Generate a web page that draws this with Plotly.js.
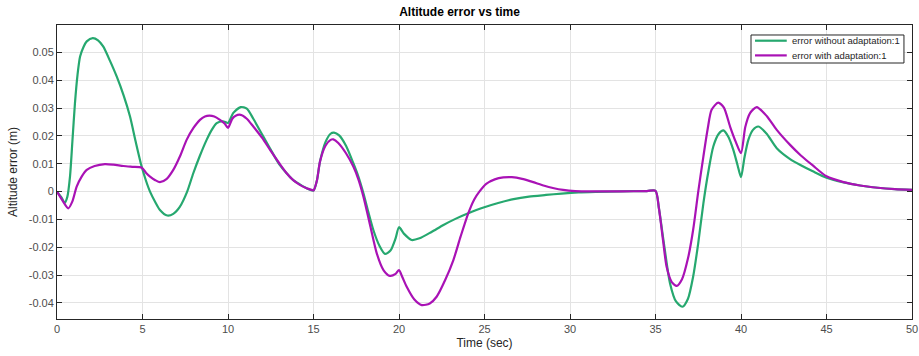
<!DOCTYPE html>
<html>
<head>
<meta charset="utf-8">
<script src="https://cdn.plot.ly/plotly-3.0.1.min.js"></script>
<style>html,body{margin:0;padding:0;background:#fff;}#chart{width:919px;height:356px;}</style>
</head>
<body>
<div id="chart"></div>
<script>
// Time (sec) and altitude error (m)
const tGreen = [0, 0.25, 0.45, 0.6, 0.76, 0.9, 1.05, 1.2, 1.35, 1.55, 1.74, 2.09, 2.4, 2.7, 3.1, 3.49, 3.9, 4.27, 4.6, 4.95, 5.2, 5.44, 5.75, 6.02, 6.45, 6.8, 7.19, 7.6, 7.97, 8.35, 8.75, 9.05, 9.34, 9.7, 10.0, 10.3, 10.74, 11.1, 11.48, 12.0, 12.46, 13.0, 13.43, 13.8, 14.2, 14.6, 15.0, 15.2, 15.38, 15.7, 16.0, 16.2, 16.5, 16.9, 17.33, 17.62, 17.92, 18.2, 18.5, 18.85, 19.18, 19.5, 19.8, 20.0, 20.3, 20.74, 21.2, 21.9, 22.6, 23.3, 24.05, 24.9, 25.8, 26.7, 27.6, 28.6, 29.5, 30.5, 31.5, 33, 34.5, 35.0, 35.2, 35.5, 35.85, 36.2, 36.57, 36.9, 37.2, 37.5, 37.8, 38.1, 38.38, 38.7, 38.97, 39.25, 39.55, 39.8, 40.0, 40.2, 40.43, 40.7, 41.01, 41.5, 42.09, 42.87, 43.5, 44.2, 45.0, 46.0, 46.96, 48.0, 49.0, 50.0];
const errWithout = [0, -0.002, -0.004, -0.002, 0.0054, 0.018, 0.0318, 0.042, 0.0486, 0.052, 0.054, 0.0552, 0.0544, 0.0522, 0.047, 0.0414, 0.0345, 0.027, 0.018, 0.009, 0.004, 0.0, -0.0038, -0.0066, -0.0086, -0.008, -0.0054, -0.0002, 0.0066, 0.0128, 0.0186, 0.0222, 0.0246, 0.0253, 0.0247, 0.0282, 0.0304, 0.0298, 0.0262, 0.0205, 0.0155, 0.0098, 0.0066, 0.0042, 0.0026, 0.0012, 0.0004, 0.004, 0.0108, 0.0178, 0.0208, 0.0212, 0.0202, 0.0165, 0.0102, 0.0055, -0.0006, -0.0072, -0.0138, -0.0194, -0.0224, -0.0212, -0.0168, -0.0128, -0.0152, -0.0174, -0.0168, -0.0145, -0.012, -0.0098, -0.0078, -0.0058, -0.0041, -0.0027, -0.0018, -0.0012, -0.0007, -0.0003, -0.0001, 0.0001, 0.0002, 0.0003, -0.006, -0.019, -0.033, -0.0395, -0.0414, -0.0385, -0.0306, -0.0185, -0.0042, 0.0075, 0.0162, 0.0208, 0.022, 0.0198, 0.015, 0.0095, 0.0052, 0.0122, 0.0186, 0.0222, 0.0234, 0.0208, 0.0156, 0.0117, 0.0095, 0.0073, 0.005, 0.0033, 0.0022, 0.0014, 0.0009, 0.0006];

const tPurple = [0, 0.3, 0.66, 0.9, 1.15, 1.45, 1.74, 2.2, 2.8, 3.3, 3.88, 4.4, 4.96, 5.2, 5.44, 5.75, 6.02, 6.4, 6.8, 7.2, 7.58, 7.97, 8.36, 8.65, 8.91, 9.2, 9.53, 9.8, 10.0, 10.25, 10.45, 10.74, 11.1, 11.48, 12.0, 12.46, 13.0, 13.43, 13.8, 14.2, 14.6, 14.95, 15.0, 15.2, 15.38, 15.7, 16.0, 16.16, 16.45, 16.9, 17.33, 17.62, 17.92, 18.3, 18.7, 19.1, 19.47, 19.8, 20.0, 20.2, 20.45, 20.9, 21.33, 21.8, 22.2, 22.7, 23.18, 23.6, 24.05, 24.4, 24.7, 25.1, 25.6, 26.1, 26.6, 27.2, 27.8, 28.5, 29.0, 29.6, 30.3, 31.5, 33, 34.5, 35.0, 35.2, 35.45, 35.65, 35.95, 36.24, 36.55, 36.9, 37.2, 37.5, 37.8, 38.05, 38.28, 38.67, 39.0, 39.36, 39.7, 40.0, 40.25, 40.53, 40.92, 41.5, 42.09, 42.87, 43.5, 44.2, 45.0, 46.0, 46.96, 48.0, 49.0, 50.0];
const errWith = [0, -0.003, -0.006, -0.0035, 0.0018, 0.0055, 0.0078, 0.0092, 0.0099, 0.0097, 0.0092, 0.0089, 0.0086, 0.0068, 0.0054, 0.0041, 0.0034, 0.0045, 0.0078, 0.0128, 0.0186, 0.0228, 0.0258, 0.027, 0.0273, 0.027, 0.0258, 0.0245, 0.0229, 0.0262, 0.0273, 0.0276, 0.0262, 0.0234, 0.0193, 0.015, 0.0102, 0.0066, 0.0042, 0.0024, 0.0012, 0.0005, 0.0004, 0.004, 0.0108, 0.0165, 0.0186, 0.0188, 0.0175, 0.0138, 0.009, 0.0045, -0.0018, -0.0118, -0.0222, -0.0283, -0.0303, -0.0296, -0.0282, -0.0308, -0.0342, -0.0388, -0.0408, -0.0402, -0.0378, -0.0318, -0.0246, -0.0162, -0.0078, -0.0028, 0.0, 0.0028, 0.0044, 0.0051, 0.0052, 0.0046, 0.0035, 0.0021, 0.0013, 0.0006, 0.0002, 0.0001, 0.0001, 0.0002, 0.0003, -0.006, -0.018, -0.027, -0.0325, -0.0339, -0.0315, -0.024, -0.0138, 0.0, 0.0126, 0.0225, 0.0294, 0.032, 0.0302, 0.0234, 0.0178, 0.0138, 0.0232, 0.0282, 0.0304, 0.0272, 0.0222, 0.0168, 0.013, 0.0094, 0.0055, 0.0034, 0.0022, 0.0014, 0.0009, 0.0006];

const seriesNames = ['error without adaptation:1', 'error with adaptation:1'];
const seriesColors = ['#26a86f', '#a912b5'];

const xTicks = [0, 5, 10, 15, 20, 25, 30, 35, 40, 45, 50];
const yTicks = [-0.04, -0.03, -0.02, -0.01, 0, 0.01, 0.02, 0.03, 0.04, 0.05];
const yTickLabels = ['-0.04', '-0.03', '-0.02', '-0.01', '0', '0.01', '0.02', '0.03', '0.04', '0.05'];

const font = 'Liberation Sans, Arial, sans-serif';
const axisCommon = {
  showline: true, linecolor: '#262626', linewidth: 1, mirror: 'ticks',
  ticks: 'inside', ticklen: 5, tickcolor: '#262626', tickwidth: 1,
  showgrid: true, gridcolor: '#e3e3e3', gridwidth: 1, zeroline: false,
  tickfont: {family: font, size: 11, color: '#4d4d4d'}
};

const traces = [
  {x: tGreen, y: errWithout, type: 'scatter', mode: 'lines', name: seriesNames[0],
   line: {color: seriesColors[0], width: 2.2, shape: 'spline', smoothing: 0.7}},
  {x: tPurple, y: errWith, type: 'scatter', mode: 'lines', name: seriesNames[1],
   line: {color: seriesColors[1], width: 2.2, shape: 'spline', smoothing: 0.7}}
];

// compact MATLAB-style legend box
const legX0 = 0.8117, legX1 = 0.9906, legY0 = 0.8707, legY1 = 0.966;
const rowY = [0.9466, 0.8966];
const shapes = [
  {type: 'rect', xref: 'paper', yref: 'paper', x0: legX0, x1: legX1, y0: legY0, y1: legY1,
   line: {color: '#262626', width: 1}, fillcolor: '#ffffff', layer: 'above'}
];
const annotations = [];
seriesNames.forEach((nm, i) => {
  shapes.push({type: 'line', xref: 'paper', yref: 'paper', x0: 0.8164, x1: 0.8535, y0: rowY[i], y1: rowY[i],
    line: {color: seriesColors[i], width: 2.2}, layer: 'above'});
  annotations.push({xref: 'paper', yref: 'paper', x: 0.8573, y: rowY[i], xanchor: 'left', yanchor: 'middle',
    text: nm, showarrow: false, font: {family: font, size: 9.5, color: '#262626'}});
});

const layout = {
  width: 919, height: 356,
  margin: {l: 57, r: 7, t: 25, b: 37},
  paper_bgcolor: '#ffffff', plot_bgcolor: '#ffffff',
  title: {text: '<b>Altitude error vs time</b>', font: {family: font, size: 12, color: '#000'}, x: 0.5, xanchor: 'center', y: 0.978, yanchor: 'top'},
  xaxis: Object.assign({}, axisCommon, {
    range: [0, 50], tickvals: xTicks, ticktext: xTicks.map(String),
    title: {text: 'Time (sec)', font: {family: font, size: 12, color: '#262626'}, standoff: 4}
  }),
  yaxis: Object.assign({}, axisCommon, {
    range: [-0.0458, 0.0599], tickvals: yTicks, ticktext: yTickLabels,
    title: {text: 'Altitude error (m)', font: {family: font, size: 12, color: '#262626'}, standoff: 8}
  }),
  showlegend: false,
  shapes: shapes,
  annotations: annotations
};

Plotly.newPlot('chart', traces, layout, {displayModeBar: false, staticPlot: true});
</script>
</body>
</html>
